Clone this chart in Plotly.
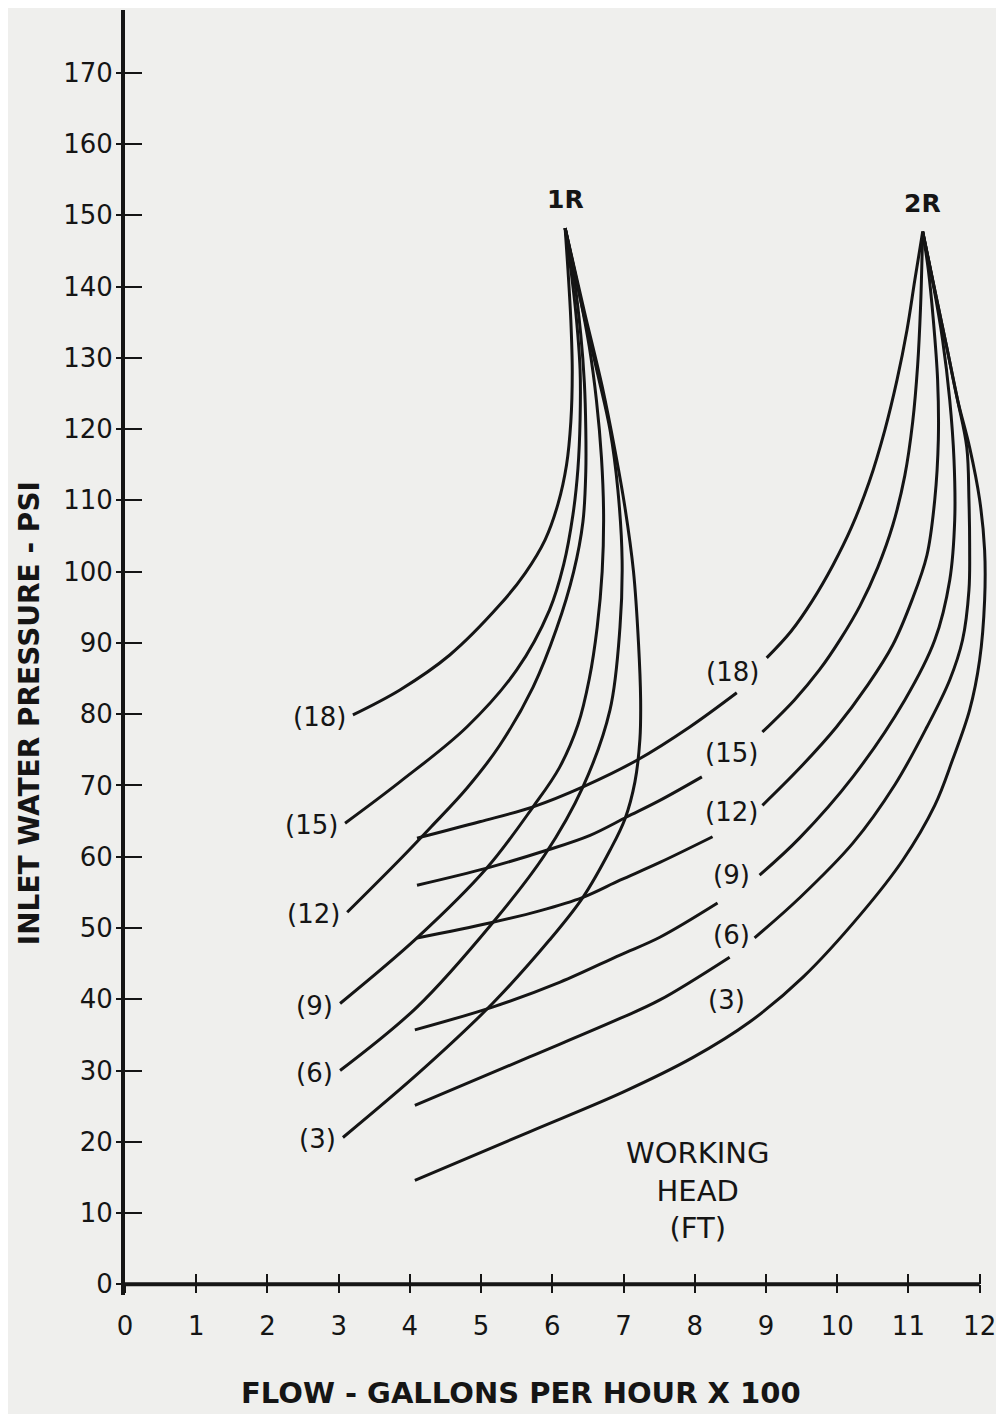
import plotly.graph_objects as go

# ---------------- axis ticks ----------------
flow_ticks = list(range(0, 13))
psi_ticks = list(range(0, 171, 10))

# ---------------- 1R family (working head labels at left end) ----------------
r1_labels = ["(18)", "(15)", "(12)", "(9)", "(6)", "(3)"]

r1_18_flow = [3.20, 3.86, 4.56, 5.26, 5.62, 5.90, 6.08, 6.20, 6.26, 6.28, 6.26, 6.22, 6.18]
r1_18_psi = [79.9, 83.4, 88.3, 95.3, 99.8, 104.5, 109.5, 115.0, 121.0, 128.0, 135.3, 142.3, 148.2]

r1_15_flow = [3.09, 3.86, 4.80, 5.50, 5.96, 6.16, 6.29, 6.36, 6.39, 6.39, 6.34, 6.27, 6.18]
r1_15_psi = [64.7, 70.5, 78.2, 86.2, 94.6, 101.0, 108.0, 114.5, 121.3, 128.3, 135.3, 141.6, 148.2]

r1_12_flow = [3.12, 3.86, 4.30, 4.80, 5.26, 5.73, 6.06, 6.30, 6.43, 6.47, 6.47, 6.45, 6.40, 6.31, 6.18]
r1_12_psi = [52.2, 59.6, 64.2, 69.6, 75.6, 83.8, 92.0, 100.0, 107.0, 114.0, 120.0, 126.5, 133.2, 140.9, 148.2]

r1_9_flow = [3.02, 4.10, 5.08, 5.73, 6.10, 6.36, 6.52, 6.63, 6.70, 6.72, 6.69, 6.62, 6.52, 6.38, 6.18]
r1_9_psi = [39.4, 48.6, 58.4, 67.0, 72.5, 78.5, 85.0, 92.2, 100.0, 108.0, 116.0, 124.0, 131.5, 139.0, 148.2]

r1_6_flow = [3.02, 4.10, 5.16, 5.89, 6.43, 6.81, 6.95, 6.98, 6.92, 6.81, 6.64, 6.46, 6.18]
r1_6_psi = [30.0, 38.9, 50.7, 60.2, 69.8, 80.6, 92.2, 101.6, 111.5, 119.9, 127.6, 135.3, 148.2]

r1_3_flow = [3.06, 4.14, 5.16, 5.96, 6.43, 6.81, 7.02, 7.16, 7.23, 7.24, 7.21, 7.14, 7.02, 6.88, 6.70, 6.45, 6.18]
r1_3_psi = [20.6, 29.8, 39.4, 48.3, 54.3, 60.9, 65.3, 70.5, 76.5, 82.0, 90.0, 100.0, 109.0, 117.0, 126.0, 136.5, 148.2]

# ---------------- 2R family (lower part / upper part, broken by label) ----------------
r2_labels = ["(18)", "(15)", "(12)", "(9)", "(6)", "(3)"]
r2_label_flow = [8.53, 8.52, 8.52, 8.52, 8.52, 8.45]
r2_label_psi = [85.9, 74.5, 66.3, 57.4, 49.0, 39.9]

r2_18_flow_low = [4.10, 4.98, 5.73, 6.43, 7.20, 7.93, 8.59]
r2_18_psi_low = [62.6, 64.9, 67.0, 69.8, 73.6, 78.2, 83.0]
r2_18_flow_up = [9.01, 9.35, 9.65, 9.94, 10.20, 10.45, 10.67, 10.84, 10.98, 11.09, 11.20]
r2_18_psi_up = [87.9, 91.6, 95.9, 100.9, 106.2, 112.6, 119.9, 126.9, 133.9, 140.9, 147.7]

r2_15_flow_low = [4.10, 5.08, 5.92, 6.53, 7.05, 7.51, 8.10]
r2_15_psi_low = [56.0, 58.4, 60.9, 63.0, 65.6, 67.9, 71.2]
r2_15_flow_up = [8.95, 9.40, 9.75, 10.05, 10.32, 10.57, 10.78, 10.95, 11.06, 11.13, 11.17, 11.20]
r2_15_psi_up = [77.5, 82.0, 86.2, 90.6, 95.2, 100.6, 106.5, 113.5, 121.0, 129.0, 137.0, 147.7]

r2_12_flow_low = [4.10, 5.12, 5.82, 6.43, 6.95, 7.51, 8.25]
r2_12_psi_low = [48.6, 50.7, 52.4, 54.3, 56.7, 59.2, 62.8]
r2_12_flow_up = [8.95, 9.47, 9.99, 10.43, 10.78, 11.05, 11.26, 11.37, 11.42, 11.41, 11.35, 11.28, 11.20]
r2_12_psi_up = [67.2, 72.4, 78.2, 84.1, 89.7, 96.0, 102.3, 110.1, 118.5, 126.9, 135.3, 142.3, 147.7]

r2_9_flow_low = [4.07, 5.16, 6.11, 6.95, 7.51, 8.32]
r2_9_psi_low = [35.7, 38.9, 42.4, 46.2, 48.7, 53.5]
r2_9_flow_up = [8.91, 9.47, 10.22, 10.95, 11.37, 11.58, 11.65, 11.64, 11.58, 11.48, 11.35, 11.20]
r2_9_psi_up = [57.4, 62.6, 71.2, 82.0, 90.4, 98.8, 107.2, 115.7, 124.1, 132.5, 140.2, 147.7]

r2_6_flow_low = [4.07, 5.68, 6.95, 7.51, 8.49]
r2_6_psi_low = [25.1, 31.9, 37.3, 39.9, 45.9]
r2_6_flow_up = [8.84, 9.47, 10.22, 10.81, 11.26, 11.58, 11.76, 11.85, 11.86, 11.85, 11.82, 11.69, 11.54, 11.37, 11.20]
r2_6_psi_up = [48.6, 54.2, 61.9, 70.1, 78.2, 84.8, 90.4, 97.4, 103.3, 110.1, 117.4, 124.1, 131.4, 139.5, 147.7]

r2_3_flow = [4.07, 5.68, 7.00, 7.97, 8.77, 9.52, 10.32, 10.92, 11.37, 11.62, 11.86, 12.00, 12.07, 12.07, 12.00, 11.86, 11.69, 11.54, 11.37, 11.20]
r2_3_psi = [14.6, 21.4, 27.0, 31.8, 36.8, 43.1, 51.8, 59.5, 67.2, 73.6, 80.6, 87.6, 96.0, 103.0, 110.1, 117.4, 124.1, 131.4, 139.5, 147.7]

# ---------------- text ----------------
x_title = "FLOW - GALLONS PER HOUR X 100"
y_title = "INLET WATER PRESSURE - PSI"
family_names = ["1R", "2R"]
legend_text = "WORKING<br>HEAD<br>(FT)"
legend_flow, legend_psi = 8.04, 13.2

INK = "#151515"
PAPER = "#efefed"
FONT = "DejaVu Sans"
X_MAX = 12.3
Y_MIN, Y_MAX = -1.5, 178.8

fig = go.Figure()

line_style = dict(color=INK, width=3, shape="spline", smoothing=1.0)

r1_curves = [
    (r1_18_flow, r1_18_psi), (r1_15_flow, r1_15_psi), (r1_12_flow, r1_12_psi),
    (r1_9_flow, r1_9_psi), (r1_6_flow, r1_6_psi), (r1_3_flow, r1_3_psi),
]
for fx, py in r1_curves:
    fig.add_trace(go.Scatter(x=fx, y=py, mode="lines", line=line_style,
                             hoverinfo="skip", showlegend=False))

r2_segments = [
    (r2_18_flow_low, r2_18_psi_low), (r2_18_flow_up, r2_18_psi_up),
    (r2_15_flow_low, r2_15_psi_low), (r2_15_flow_up, r2_15_psi_up),
    (r2_12_flow_low, r2_12_psi_low), (r2_12_flow_up, r2_12_psi_up),
    (r2_9_flow_low, r2_9_psi_low), (r2_9_flow_up, r2_9_psi_up),
    (r2_6_flow_low, r2_6_psi_low), (r2_6_flow_up, r2_6_psi_up),
    (r2_3_flow, r2_3_psi),
]
for fx, py in r2_segments:
    fig.add_trace(go.Scatter(x=fx, y=py, mode="lines", line=line_style,
                             hoverinfo="skip", showlegend=False))

# dummy trace so the overlay axes (crossing ticks) are drawn
fig.add_trace(go.Scatter(x=[None], y=[None], xaxis="x2", yaxis="y2",
                         mode="lines", hoverinfo="skip", showlegend=False))

annotations = []
for lab, (fx, py) in zip(r1_labels, r1_curves):
    annotations.append(dict(x=fx[0], y=py[0], text=lab, showarrow=False,
                            xanchor="right", yanchor="middle", xshift=-5, yshift=-2,
                            font=dict(family=FONT, size=26, color=INK)))
for lab, lx, ly in zip(r2_labels, r2_label_flow, r2_label_psi):
    annotations.append(dict(x=lx, y=ly, text=lab, showarrow=False,
                            xanchor="center", yanchor="middle",
                            font=dict(family=FONT, size=26, color=INK)))
for name, (fx, py) in zip(family_names, [r1_curves[0], r2_segments[1]]):
    annotations.append(dict(x=fx[-1], y=py[-1], text="<b>%s</b>" % name, showarrow=False,
                            xanchor="center", yanchor="bottom", yshift=12,
                            font=dict(family=FONT, size=25, color=INK)))
annotations.append(dict(x=legend_flow, y=legend_psi, text=legend_text, showarrow=False,
                        xanchor="center", yanchor="middle",
                        font=dict(family=FONT, size=29, color=INK)))
annotations.append(dict(xref="paper", yref="paper", x=-0.108, y=0.453,
                        text="<b>%s</b>" % y_title, textangle=-90, showarrow=False,
                        xanchor="center", yanchor="middle",
                        font=dict(family=FONT, size=28, color=INK)))
annotations.append(dict(xref="paper", yref="paper", x=0.452, y=-0.0763,
                        text="<b>%s</b>" % x_title, showarrow=False,
                        xanchor="center", yanchor="middle",
                        font=dict(family=FONT, size=29, color=INK)))

x_pos = (0 - Y_MIN) / (Y_MAX - Y_MIN)
tick_font = dict(family=FONT, size=26, color=INK)

fig.update_layout(
    width=996, height=1406,
    margin=dict(l=117, r=3, t=2, b=119, pad=0),
    paper_bgcolor=PAPER, plot_bgcolor="rgba(0,0,0,0)",
    showlegend=False,
    annotations=annotations,
    shapes=[dict(type="line", xref="x", yref="y", x0=flow_ticks[0], x1=flow_ticks[-1],
                 y0=0, y1=0, line=dict(color=INK, width=4), layer="above")],
    xaxis=dict(range=[0, X_MAX], anchor="free", position=x_pos,
               tickmode="array", tickvals=flow_ticks, ticktext=[str(v) for v in flow_ticks],
               ticks="outside", ticklen=8, tickwidth=2, tickcolor=INK,
               showline=False, showgrid=False, zeroline=False,
               tickfont=tick_font, ticklabelstandoff=10, fixedrange=True),
    xaxis2=dict(overlaying="x", matches="x", anchor="free", position=x_pos,
                tickmode="array", tickvals=flow_ticks, ticks="inside", ticklen=10,
                tickwidth=2, tickcolor=INK, showticklabels=False,
                showline=False, showgrid=False, zeroline=False),
    yaxis=dict(range=[Y_MIN, Y_MAX], anchor="x",
               tickmode="array", tickvals=psi_ticks, ticktext=[str(v) for v in psi_ticks],
               ticks="outside", ticklen=5, tickwidth=2, tickcolor=INK,
               showline=True, linewidth=4, linecolor=INK,
               showgrid=False, zeroline=False, tickfont=tick_font,
               ticklabelstandoff=-2, fixedrange=True),
    yaxis2=dict(overlaying="y", matches="y", anchor="x2", side="left",
                tickmode="array", tickvals=psi_ticks, ticks="inside", ticklen=17,
                tickwidth=2, tickcolor=INK, showticklabels=False,
                showline=False, showgrid=False, zeroline=False),
)

fig.write_html("out.html")
